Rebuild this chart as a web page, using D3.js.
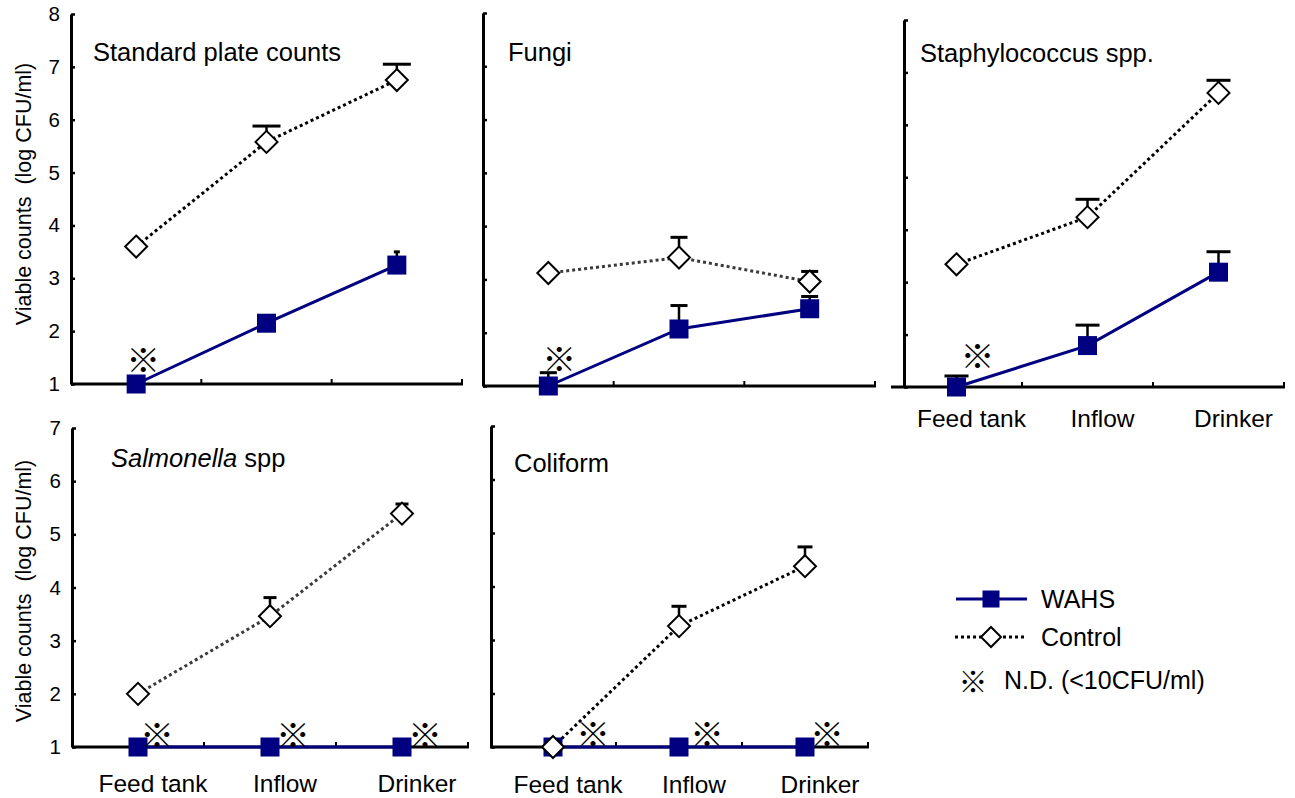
<!DOCTYPE html>
<html>
<head>
<meta charset="utf-8">
<script src="https://cdn.jsdelivr.net/npm/d3@7"></script>
<style>
  html, body { margin: 0; padding: 0; background: #fff; }
  svg { display: block; }
  text { font-family: "Liberation Sans", Arial, sans-serif; fill: #000; }
  .nd { font-family: "Noto Sans CJK JP", "Noto Sans CJK SC", sans-serif; }
</style>
</head>
<body>
<svg id="chart" width="1295" height="798"></svg>
<script>
// Sampling points along the water line
const categories = ["Feed tank", "Inflow", "Drinker"];

// Organism groups, one panel each
const panelTitles = ["Standard plate counts", "Fungi", "Staphylococcus spp.", "Salmonella spp", "Coliform"];

// Upper limit of each panel's y axis (log CFU/ml)
const yMaxima = [8, 8, 8, 7, 7];

// WAHS treated line: means and upper error (log CFU/ml)
const wahsMeans = [
  [1.00, 2.15, 3.25],
  [1.00, 2.07, 2.45],
  [1.00, 1.79, 3.19],
  [1.00, 1.00, 1.00],
  [1.00, 1.00, 1.00]
];
const wahsErrors = [
  [0.00, 0.00, 0.25],
  [0.25, 0.44, 0.23],
  [0.21, 0.39, 0.39],
  [0.00, 0.00, 0.00],
  [0.00, 0.00, 0.00]
];

// Control line: means and upper error (log CFU/ml)
const controlMeans = [
  [3.60, 5.58, 6.75],
  [3.12, 3.41, 2.96],
  [3.34, 4.24, 6.61],
  [2.00, 3.46, 5.39],
  [1.00, 3.26, 4.38]
];
const controlErrors = [
  [0.00, 0.30, 0.30],
  [0.00, 0.38, 0.19],
  [0.00, 0.34, 0.24],
  [0.00, 0.35, 0.18],
  [0.00, 0.37, 0.36]
];

// WAHS samples below the detection limit (1 = N.D.)
const notDetected = [
  [1, 0, 0],
  [1, 0, 0],
  [1, 0, 0],
  [1, 1, 1],
  [1, 1, 1]
];

const legendLabels = ["WAHS", "Control", "N.D. (<10CFU/ml)"];
const yAxisTitle = "Viable counts  (log CFU/ml)";

// ---- layout of the five panels ----
const layout = [
  { axisX: 71,  band: [71, 462],   yRange: [384, 14],  tickLabels: true,  xLabels: false, yTitleY: 194,
    title: [93, 61],  capW: { wahs: 6, ctrl: 28 }, dot: "#000", ndDx: [7, 0, 0], ndDy: -26 },
  { axisX: 483, band: [483, 875],  yRange: [386, 13],  tickLabels: false, xLabels: false,
    title: [508, 61], capW: { wahs: 17, ctrl: 17 }, dot: "#3a3a3a", ndDx: [11, 0, 0], ndDy: -29 },
  { axisX: 904, band: [891, 1284], yRange: [387, 20],  tickLabels: false, xLabels: true, xLabelY: 427,
    title: [920, 62], capW: { wahs: 24, ctrl: 24 }, dot: "#000", ndDx: [21, 0, 0], ndDy: -33 },
  { axisX: 72,  band: [72, 468],   yRange: [747, 428], tickLabels: true,  xLabels: true, xLabelY: 792, yTitleY: 591,
    title: [111, 467], italicWord: "Salmonella", capW: { wahs: 13, ctrl: 13 }, dot: "#3a3a3a", ndDx: [19, 23, 23], ndDy: -14 },
  { axisX: 491, band: [490, 868],  yRange: [747, 426], tickLabels: false, xLabels: true, xLabelY: 793,
    title: [514, 472], capW: { wahs: 15, ctrl: 15 }, dot: "#000", ndDx: [40, 28, 22], ndDy: -15 }
];

const NAVY = "#000080";
const svg = d3.select("#chart");

function square(g, cx, cy, s) {
  g.append("rect").attr("x", cx - s / 2).attr("y", cy - s / 2)
    .attr("width", s).attr("height", s).attr("fill", NAVY);
}
function diamond(g, cx, cy, r) {
  g.append("path")
    .attr("d", `M${cx},${cy - r}L${cx + r},${cy}L${cx},${cy + r}L${cx - r},${cy}Z`)
    .attr("fill", "#fff").attr("stroke", "#000").attr("stroke-width", 2);
}

layout.forEach((L, p) => {
  const g = svg.append("g");
  const x = d3.scaleBand().domain(categories).range(L.band);
  const cx = c => x(c) + x.bandwidth() / 2;
  const y = d3.scaleLinear().domain([1, yMaxima[p]]).range(L.yRange);

  // y axis: ticks point inward
  const yAxis = d3.axisLeft(y)
    .tickValues(d3.range(1, yMaxima[p] + 1))
    .tickSizeInner(-4).tickSizeOuter(0).tickPadding(11)
    .tickFormat(L.tickLabels ? d3.format("d") : () => "");
  const ya = g.append("g").attr("transform", `translate(${L.axisX},0)`).call(yAxis);
  ya.select(".domain").attr("stroke-width", 3).attr("stroke", "#000");
  ya.selectAll(".tick line").attr("stroke-width", 2.5);
  ya.selectAll(".tick text").attr("font-size", 20.5).attr("font-family", "Liberation Sans, Arial, sans-serif");

  // x axis: baseline with short ticks at band boundaries
  const y0 = y(1);
  g.append("line").attr("x1", L.band[0]).attr("x2", L.band[1] + 1)
    .attr("y1", y0).attr("y2", y0).attr("stroke", "#000").attr("stroke-width", 3);
  g.selectAll(".xtick").data(categories).enter().append("line")
    .attr("x1", c => x(c) + x.bandwidth()).attr("x2", c => x(c) + x.bandwidth())
    .attr("y1", y0).attr("y2", y0 - 5).attr("stroke", "#000").attr("stroke-width", 2);

  if (L.xLabels) {
    g.selectAll(".xlab").data(categories).enter().append("text")
      .attr("x", c => cx(c) + 15).attr("y", L.xLabelY)
      .attr("text-anchor", "middle").attr("font-size", 24.5).text(c => c);
  }

  if (L.yTitleY) {
    g.append("text")
      .attr("transform", `translate(31,${L.yTitleY}) rotate(-90)`)
      .attr("text-anchor", "middle").attr("font-size", 21.5)
      .style("white-space", "pre").text(yAxisTitle);
  }

  // panel title
  const t = g.append("text").attr("x", L.title[0]).attr("y", L.title[1]).attr("font-size", 25.5);
  if (L.italicWord) {
    t.append("tspan").attr("font-style", "italic").text(L.italicWord);
    t.append("tspan").text(panelTitles[p].slice(L.italicWord.length));
  } else {
    t.text(panelTitles[p]);
  }

  const wahs = categories.map((c, i) => ({ c, v: wahsMeans[p][i], e: wahsErrors[p][i] }));
  const ctrl = categories.map((c, i) => ({ c, v: controlMeans[p][i], e: controlErrors[p][i] }));

  // error bars (upper only)
  function errorBars(data, capW) {
    data.filter(d => d.e > 0).forEach(d => {
      g.append("line").attr("x1", cx(d.c)).attr("x2", cx(d.c))
        .attr("y1", y(d.v)).attr("y2", y(d.v + d.e)).attr("stroke", "#000").attr("stroke-width", 2.5);
      g.append("line").attr("x1", cx(d.c) - capW / 2).attr("x2", cx(d.c) + capW / 2)
        .attr("y1", y(d.v + d.e)).attr("y2", y(d.v + d.e)).attr("stroke", "#000").attr("stroke-width", 3);
    });
  }
  errorBars(wahs, L.capW.wahs);
  errorBars(ctrl, L.capW.ctrl);

  const line = d3.line().x(d => cx(d.c)).y(d => y(d.v));
  g.append("path").datum(wahs).attr("d", line)
    .attr("fill", "none").attr("stroke", NAVY).attr("stroke-width", 3);
  g.append("path").datum(ctrl).attr("d", line)
    .attr("fill", "none").attr("stroke", L.dot).attr("stroke-width", 3).attr("stroke-dasharray", "3,3");

  wahs.forEach(d => square(g, cx(d.c), y(d.v), 19));
  ctrl.forEach(d => diamond(g, cx(d.c), y(d.v), 11));

  // N.D. marks next to WAHS points
  categories.forEach((c, i) => {
    if (!notDetected[p][i]) return;
    g.append("text").attr("class", "nd")
      .attr("x", cx(c) + L.ndDx[i]).attr("y", y(wahsMeans[p][i]) + L.ndDy)
      .attr("text-anchor", "middle").attr("dominant-baseline", "central")
      .attr("font-size", 34).text("※");
  });
});

// ---- legend ----
const lg = svg.append("g");
lg.append("line").attr("x1", 956).attr("x2", 1027).attr("y1", 599).attr("y2", 599)
  .attr("stroke", NAVY).attr("stroke-width", 3);
square(lg, 991, 599, 17);
lg.append("text").attr("x", 1041).attr("y", 608).attr("font-size", 25).text(legendLabels[0]);

lg.append("line").attr("x1", 955).attr("x2", 1026).attr("y1", 637).attr("y2", 637)
  .attr("stroke", "#000").attr("stroke-width", 3).attr("stroke-dasharray", "3,3");
diamond(lg, 991, 637, 10);
lg.append("text").attr("x", 1041).attr("y", 646).attr("font-size", 25).text(legendLabels[1]);

lg.append("text").attr("class", "nd").attr("x", 973).attr("y", 680)
  .attr("text-anchor", "middle").attr("dominant-baseline", "central").attr("font-size", 29).text("※");
lg.append("text").attr("x", 1004).attr("y", 689).attr("font-size", 25).text(legendLabels[2]);
</script>
</body>
</html>
